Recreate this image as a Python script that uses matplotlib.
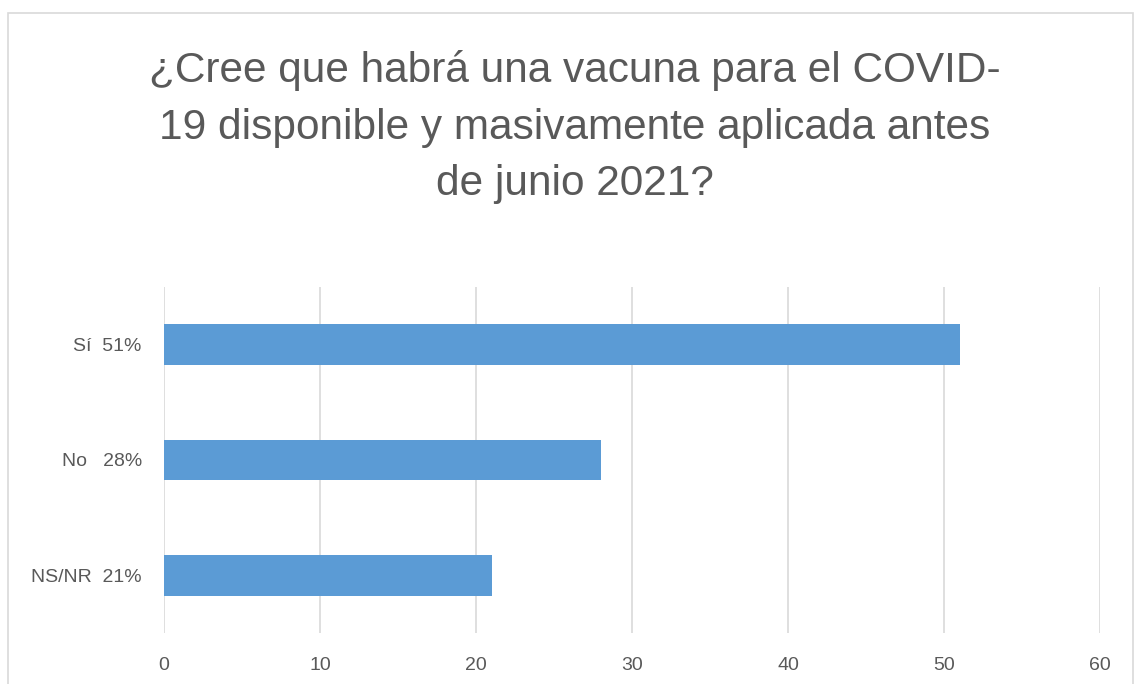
import matplotlib.pyplot as plt
from matplotlib.patches import Rectangle

categories = ['Sí  51%', 'No   28%', 'NS/NR  21%']
values = [51, 28, 21]
x_ticks = [0, 10, 20, 30, 40, 50, 60]
title = '¿Cree que habrá una vacuna para el COVID-\n19 disponible y masivamente aplicada antes\nde junio 2021?'

plt.rcParams['font.family'] = ['Liberation Sans', 'DejaVu Sans']

fig = plt.figure(figsize=(11.34, 6.84), dpi=100)
ax = fig.add_axes([164 / 1134, 1 - 633 / 684, (1100 - 164) / 1134, (633 - 287) / 684])

# chart frame like the spreadsheet border
fig.patches.append(Rectangle((8 / 1134, -0.1), (1133 - 8) / 1134, 1.1 - 13 / 684,
                             transform=fig.transFigure, fill=False,
                             edgecolor='#d9d9d9', linewidth=1.2))

y = list(range(len(categories)))
ax.barh(y, values, height=0.35, color='#5b9bd5', zorder=3)
ax.set_yticks(y)
ax.set_yticklabels(categories)
ax.set_ylim(2.5, -0.5)
ax.set_xlim(0, 60)
ax.set_xticks(x_ticks)
ax.grid(axis='x', color='#d9d9d9', linewidth=1.2, zorder=0)
for s in ax.spines.values():
    s.set_visible(False)
ax.tick_params(length=0, labelsize=14, colors='#595959')
ax.tick_params(axis='x', pad=17)
ax.tick_params(axis='y', pad=16)

fig.text(575 / 1134, 1 - 127 / 684, title, ha='center', va='center',
         fontsize=30.5, color='#595959', linespacing=1.54)

fig.savefig('out.png', dpi=100)
